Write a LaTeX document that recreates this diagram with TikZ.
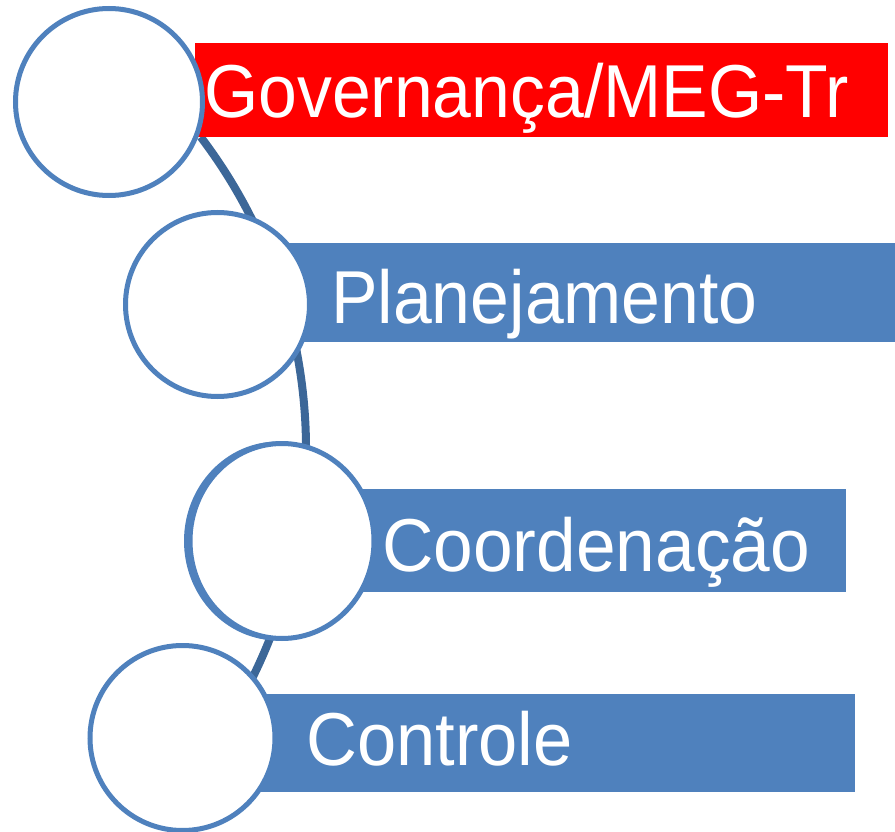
\documentclass[tikz,border=0pt]{standalone}
\usepackage{fontspec}
\setmainfont{Liberation Sans}
\usetikzlibrary{shapes.geometric}
\definecolor{ringblue}{HTML}{4F81BD}
\definecolor{barblue}{HTML}{4F81BD}
\definecolor{arcblue}{HTML}{3C6798}
\definecolor{barred}{HTML}{FF0000}
\tikzset{
  ring/.style={circle, draw=ringblue, line width=5pt, fill=white, inner sep=0pt},
  oring/.style={ellipse, draw=ringblue, line width=5pt, fill=white, inner sep=0pt},
  barbox/.style={rectangle, fill=barblue, draw=none, inner sep=0pt},
  redbox/.style={rectangle, fill=barred, draw=none, inner sep=0pt},
  lbl/.style={anchor=base west, inner sep=0pt, text=white, font=\fontsize{75}{75}\selectfont},
  spine/.style={draw=arcblue, line width=8pt}
}
\begin{document}
\begin{tikzpicture}[x=1pt,y=-1pt]
\useasboundingbox (0,0) rectangle (895,832);
% spine arc (under everything)
\coordinate (arcstart) at (200.7,137);
\draw[spine] (arcstart) arc[start angle=-37.3, end angle=26.3, radius=515];
% bars
\node[redbox, minimum width=693pt, minimum height=94pt] (b1) at (541.5,90) {};
\node[barbox, minimum width=635pt, minimum height=99pt] (b2) at (577.5,292.5) {};
\node[barbox, minimum width=516pt, minimum height=103pt] (b3) at (588,540.5) {};
\node[barbox, minimum width=615pt, minimum height=98pt] (b4) at (547.5,743) {};
% circles
\node[ring, minimum size=187pt] (c1) at (109,102) {};
\node[ring, minimum size=184pt] (c2) at (217.5,304.5) {};
\draw[draw=ringblue, line width=5pt] (278,541) ellipse [x radius=91.5, y radius=97];
\node[oring, minimum width=184pt, minimum height=195pt] (c3) at (282,541) {};
\node[ring, minimum size=185pt] (c4) at (182.5,738) {};
% labels
\node[lbl] (t1) at (204,118) {\scalebox{0.93}[1]{Governança/MEG-Tr}};
\node[lbl] (t2) at (331,323) {\scalebox{0.93}[1]{Planejamento}};
\node[lbl] (t3) at (382,571) {\scalebox{0.95}[1]{Coordenação}};
\node[lbl] (t4) at (306,765) {\scalebox{0.94}[1]{Controle}};
\end{tikzpicture}
\end{document}
